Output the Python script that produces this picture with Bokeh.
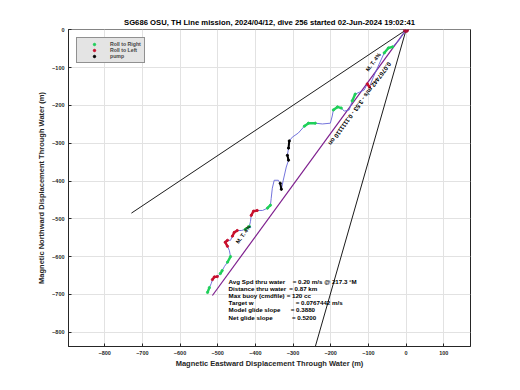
import math
from bokeh.plotting import figure
from bokeh.models import (ColumnDataSource, FixedTicker, Range1d, Legend, LegendItem)
from bokeh.core.properties import value
from bokeh.embed import file_html
from bokeh.resources import INLINE

# ---------------- data ----------------
title_text = "SG686 OSU, TH Line mission, 2024/04/12, dive 256 started 02-Jun-2024 19:02:41"
x_ticks = [-800, -700, -600, -500, -400, -300, -200, -100, 0, 100]
y_ticks = [0, -100, -200, -300, -400, -500, -600, -700, -800]

# glider track through water (m)
path_x = [-527, -522, -517, -514, -509, -501, -493, -488, -482, -474, -466, -469, -474, -480,
          -474, -466, -461, -456, -448, -437, -427, -416, -413, -411, -405, -395, -381, -368,
          -360, -358, -355, -350, -339, -334, -331, -326, -318, -312, -315, -312, -310, -302,
          -286, -270, -259, -241, -222, -201, -196, -193, -182, -172, -164, -151, -143, -135,
          -124, -111, -103, -97, -89, -74, -58, -47, -36, -20, 0]
path_y = [-695, -682, -671, -661, -654, -653, -645, -637, -626, -615, -600, -584, -573, -562,
          -557, -557, -546, -536, -531, -531, -528, -520, -507, -491, -480, -478, -478, -472,
          -464, -446, -419, -398, -398, -406, -422, -398, -363, -345, -332, -313, -294, -284,
          -273, -255, -247, -247, -249, -247, -228, -212, -204, -207, -215, -212, -188, -170,
          -165, -159, -143, -151, -130, -96, -61, -48, -45, -29, 0]

# index ranges (inclusive) of the track where the events happen
roll_right_idx = [(0, 1), (6, 7), (9, 10), (20, 21), (27, 28), (43, 45), (49, 51), (54, 55), (62, 64)]
roll_left_idx = [(3, 5), (12, 14), (16, 18), (23, 25), (58, 59)]
pump_idx = [(33, 34), (37, 38), (39, 40)]

# straight reference lines from the surface point
model_line_x = [0, -514]
model_line_y = [0, -703]
bound_a_x = [0, -729]
bound_a_y = [0, -485]
bound_b_x = [0, -242]
bound_b_y = [0, -842]

stat_labels = ["Avg Spd thru water", "Distance thru water", "Max buoy (cmdfile)",
               "Target w", "Model glide slope", "Net glide slope"]
stat_values = ["=  0.20 m/s @ 217.3 \u00b0M", "=  0.87 km", "= 120 cc",
               "= 0.0767442 m/s", "= 0.3880", "=   0.5200"]

mt_label = "M. T. 4%"
line_label = "0.0767442 m/s - 3.53 - 0.1111110 on"

# ---------------- figure ----------------
FONT = "Liberation Sans"
p = figure(width=512, height=382, x_range=Range1d(-896, 171), y_range=Range1d(-838, 1),
           output_backend="svg", toolbar_location=None,
           min_border_left=68, min_border_right=42, min_border_top=29, min_border_bottom=36)
p.background_fill_color = "white"
p.border_fill_color = "white"
p.outline_line_color = "#262626"
p.outline_line_width = 1

p.title.text = title_text
p.title.align = "center"
p.title.text_font = FONT
p.title.text_font_size = "7.7px"
p.title.text_font_style = "bold"
p.title.text_color = "black"
p.title.offset = 0
p.title.standoff = 6

for ax in (p.xaxis[0], p.yaxis[0]):
    ax.major_label_text_font = FONT
    ax.major_label_text_font_size = "5.5px"
    ax.major_label_text_font_style = "bold"
    ax.major_label_text_color = "#262626"
    ax.axis_label_text_font = FONT
    ax.axis_label_text_font_size = "7.5px"
    ax.axis_label_text_font_style = "bold"
    ax.axis_label_text_color = "#262626"
    ax.major_tick_in = 3
    ax.major_tick_out = 0
    ax.minor_tick_line_color = None
    ax.axis_line_color = "#262626"
    ax.major_tick_line_color = "#262626"

p.xaxis.ticker = FixedTicker(ticks=x_ticks)
p.yaxis.ticker = FixedTicker(ticks=y_ticks)
p.xaxis.axis_label = "Magnetic Eastward Displacement Through Water (m)"
p.yaxis.axis_label = "Magnetic Northward Displacement Through Water (m)"
p.xaxis.major_label_standoff = 4
p.yaxis.major_label_standoff = 4
p.xaxis.axis_label_standoff = 1
p.yaxis.axis_label_standoff = 3

p.xgrid.grid_line_color = "#e2e2e2"
p.ygrid.grid_line_color = "#e2e2e2"

# reference lines
p.line(bound_a_x, bound_a_y, line_color="black", line_width=0.9)
p.line(bound_b_x, bound_b_y, line_color="black", line_width=0.9)
p.line(model_line_x, model_line_y, line_color="#7e1f8e", line_width=1.2)

# track
p.line(path_x, path_y, line_color="#6464d8", line_width=0.9)


def segs(idx_list):
    xs, ys, px, py = [], [], [], []
    for a, b in idx_list:
        xs.append(path_x[a:b + 1])
        ys.append(path_y[a:b + 1])
        px.extend(path_x[a:b + 1])
        py.extend(path_y[a:b + 1])
    return xs, ys, px, py


legend_items = []
for name, idx, col, w in (("Roll to Right", roll_right_idx, "#1fd05a", 2.4),
                          ("Roll to Left", roll_left_idx, "#c8102e", 2.4),
                          ("pump", pump_idx, "black", 2.0)):
    xs, ys, px, py = segs(idx)
    p.multi_line(xs, ys, line_color=col, line_width=w)
    r = p.scatter(px, py, size=2.2, color=col, marker="circle")
    legend_items.append(LegendItem(label=name, renderers=[r]))

# surface point
p.scatter([path_x[-1]], [path_y[-1]], size=5, color="#b0103a", marker="circle")

# stats text
sx = [-471] * len(stat_labels)
sy = [-666, -685, -703, -722, -741, -761]
vx = [-301, -310, -317, -293, -306, -303]
p.text(x=sx, y=sy, text=stat_labels, text_font=value(FONT), text_font_size=value("6.2px"),
       text_font_style="bold", text_baseline="middle", text_align="left", text_color="black")
p.text(x=vx, y=sy, text=stat_values, text_font=value(FONT), text_font_size=value("6.2px"),
       text_font_style="bold", text_baseline="middle", text_align="left", text_color="black")

# rotated labels
ang = math.atan2(-model_line_y[1], -model_line_x[1])
p.text(x=[-87, -432], y=[-85, -541], text=[mt_label, mt_label], angle=ang,
       text_font=value(FONT), text_font_size=value("5.5px"), text_font_style="bold",
       text_baseline="middle", text_align="center", text_color="black")
p.text(x=[-122], y=[-196], text=[line_label], angle=ang + math.pi,
       text_font=value(FONT), text_font_size=value("6.2px"), text_font_style="bold",
       text_baseline="middle", text_align="center", text_color="black")

legend = Legend(items=legend_items, location="top_left", margin=8, padding=3, spacing=0,
                label_height=6, glyph_height=6, glyph_width=28, label_standoff=2,
                label_text_font=FONT, label_text_font_size="5.2px", label_text_font_style="bold",
                background_fill_color="#e4e4e4", background_fill_alpha=1,
                border_line_color="#3c3c3c", border_line_width=1)
p.add_layout(legend)

open("out.html", "w").write(file_html(p, INLINE))
